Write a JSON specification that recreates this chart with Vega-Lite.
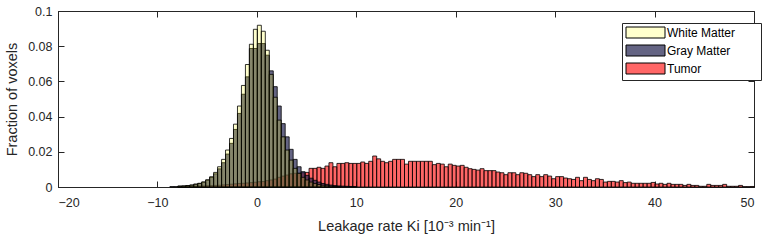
{
"$schema": "https://vega.github.io/schema/vega-lite/v6.json",
"width": 696, "height": 176,
"autosize": {"type": "none"},
"padding": {"left": 58, "top": 11, "right": 16, "bottom": 55},
"background": "white",
"config": {
 "view": {"stroke": "#262626", "strokeWidth": 1},
 "axis": {"domainColor": "#262626", "tickColor": "#262626", "labelColor": "#262626", "titleColor": "#262626", "labelFont": "Liberation Sans", "titleFont": "Liberation Sans", "labelFontSize": 12.5, "titleFontSize": 14.5, "titleFontWeight": "normal", "grid": false, "tickSize": -6, "domainWidth": 1, "tickWidth": 1},
 "legend": {"orient": "none", "legendX": 564, "legendY": 12, "strokeColor": "#262626", "fillColor": "white", "padding": 3, "symbolType": "M-3.25,-0.9167H3.25V0.9167H-3.25Z", "symbolSize": 144, "symbolOffset": 14, "symbolStrokeColor": "black", "symbolStrokeWidth": 1, "labelFont": "Liberation Sans", "labelFontSize": 12, "labelColor": "black", "labelOffset": 15, "rowPadding": 1}
},
"resolve": {"axis": {"x": "independent", "y": "independent"}},
"data": {"values": [
{"s":"Tumor","x":-8,"f":0.0002},{"s":"Tumor","x":-7.6,"f":0.0002},{"s":"Tumor","x":-7.2,"f":0.0003},{"s":"Tumor","x":-6.8,"f":0.0003},{"s":"Tumor","x":-6.4,"f":0.0004},{"s":"Tumor","x":-6,"f":0.0005},{"s":"Tumor","x":-5.6,"f":0.0006},{"s":"Tumor","x":-5.2,"f":0.0007},{"s":"Tumor","x":-4.8,"f":0.0008},{"s":"Tumor","x":-4.4,"f":0.0009},{"s":"Tumor","x":-4,"f":0.001},{"s":"Tumor","x":-3.6,"f":0.0012},{"s":"Tumor","x":-3.2,"f":0.0014},{"s":"Tumor","x":-2.8,"f":0.0016},{"s":"Tumor","x":-2.4,"f":0.0018},{"s":"Tumor","x":-2,"f":0.002},{"s":"Tumor","x":-1.6,"f":0.0021},{"s":"Tumor","x":-1.2,"f":0.0023},{"s":"Tumor","x":-0.8,"f":0.0025},{"s":"Tumor","x":-0.4,"f":0.0027},
{"s":"Tumor","x":0,"f":0.003},{"s":"Tumor","x":0.4,"f":0.0031},{"s":"Tumor","x":0.8,"f":0.0036},{"s":"Tumor","x":1.2,"f":0.004},{"s":"Tumor","x":1.6,"f":0.0045},{"s":"Tumor","x":2,"f":0.0055},{"s":"Tumor","x":2.4,"f":0.0062},{"s":"Tumor","x":2.8,"f":0.0068},{"s":"Tumor","x":3.2,"f":0.0075},{"s":"Tumor","x":3.6,"f":0.0078},{"s":"Tumor","x":4,"f":0.0078},{"s":"Tumor","x":4.4,"f":0.0081},{"s":"Tumor","x":4.8,"f":0.0083},{"s":"Tumor","x":5.2,"f":0.0106},{"s":"Tumor","x":5.6,"f":0.0106},{"s":"Tumor","x":6,"f":0.0112},{"s":"Tumor","x":6.4,"f":0.0106},{"s":"Tumor","x":6.8,"f":0.0119},{"s":"Tumor","x":7.2,"f":0.0138},{"s":"Tumor","x":7.6,"f":0.0115},
{"s":"Tumor","x":8,"f":0.0134},{"s":"Tumor","x":8.4,"f":0.0134},{"s":"Tumor","x":8.8,"f":0.0138},{"s":"Tumor","x":9.2,"f":0.0134},{"s":"Tumor","x":9.6,"f":0.0134},{"s":"Tumor","x":10,"f":0.0134},{"s":"Tumor","x":10.4,"f":0.0142},{"s":"Tumor","x":10.8,"f":0.0134},{"s":"Tumor","x":11.2,"f":0.0146},{"s":"Tumor","x":11.6,"f":0.0176},{"s":"Tumor","x":12,"f":0.016},{"s":"Tumor","x":12.4,"f":0.0146},{"s":"Tumor","x":12.8,"f":0.0138},{"s":"Tumor","x":13.2,"f":0.0146},{"s":"Tumor","x":13.6,"f":0.0157},{"s":"Tumor","x":14,"f":0.0157},{"s":"Tumor","x":14.4,"f":0.0157},{"s":"Tumor","x":14.8,"f":0.013},{"s":"Tumor","x":15.2,"f":0.0146},{"s":"Tumor","x":15.6,"f":0.0146},
{"s":"Tumor","x":16,"f":0.0146},{"s":"Tumor","x":16.4,"f":0.0146},{"s":"Tumor","x":16.8,"f":0.0146},{"s":"Tumor","x":17.2,"f":0.0146},{"s":"Tumor","x":17.6,"f":0.0127},{"s":"Tumor","x":18,"f":0.0134},{"s":"Tumor","x":18.4,"f":0.013},{"s":"Tumor","x":18.8,"f":0.0115},{"s":"Tumor","x":19.2,"f":0.013},{"s":"Tumor","x":19.6,"f":0.0123},{"s":"Tumor","x":20,"f":0.0119},{"s":"Tumor","x":20.4,"f":0.0123},{"s":"Tumor","x":20.8,"f":0.0112},{"s":"Tumor","x":21.2,"f":0.0104},{"s":"Tumor","x":21.6,"f":0.01},{"s":"Tumor","x":22,"f":0.0096},{"s":"Tumor","x":22.4,"f":0.0104},{"s":"Tumor","x":22.8,"f":0.0093},{"s":"Tumor","x":23.2,"f":0.0093},{"s":"Tumor","x":23.6,"f":0.0093},
{"s":"Tumor","x":24,"f":0.0085},{"s":"Tumor","x":24.4,"f":0.0081},{"s":"Tumor","x":24.8,"f":0.007},{"s":"Tumor","x":25.2,"f":0.0081},{"s":"Tumor","x":25.6,"f":0.0081},{"s":"Tumor","x":26,"f":0.007},{"s":"Tumor","x":26.4,"f":0.0081},{"s":"Tumor","x":26.8,"f":0.0078},{"s":"Tumor","x":27.2,"f":0.007},{"s":"Tumor","x":27.6,"f":0.0059},{"s":"Tumor","x":28,"f":0.007},{"s":"Tumor","x":28.4,"f":0.0059},{"s":"Tumor","x":28.8,"f":0.007},{"s":"Tumor","x":29.2,"f":0.0062},{"s":"Tumor","x":29.6,"f":0.0047},{"s":"Tumor","x":30,"f":0.0059},{"s":"Tumor","x":30.4,"f":0.0059},{"s":"Tumor","x":30.8,"f":0.0051},{"s":"Tumor","x":31.2,"f":0.0047},{"s":"Tumor","x":31.6,"f":0.0043},
{"s":"Tumor","x":32,"f":0.0055},{"s":"Tumor","x":32.4,"f":0.0036},{"s":"Tumor","x":32.8,"f":0.0055},{"s":"Tumor","x":33.2,"f":0.0043},{"s":"Tumor","x":33.6,"f":0.0036},{"s":"Tumor","x":34,"f":0.0047},{"s":"Tumor","x":34.4,"f":0.0043},{"s":"Tumor","x":34.8,"f":0.0028},{"s":"Tumor","x":35.2,"f":0.0032},{"s":"Tumor","x":35.6,"f":0.0032},{"s":"Tumor","x":36,"f":0.0028},{"s":"Tumor","x":36.4,"f":0.0036},{"s":"Tumor","x":36.8,"f":0.0025},{"s":"Tumor","x":37.2,"f":0.0028},{"s":"Tumor","x":37.6,"f":0.0021},{"s":"Tumor","x":38,"f":0.0021},{"s":"Tumor","x":38.4,"f":0.0021},{"s":"Tumor","x":38.8,"f":0.0021},{"s":"Tumor","x":39.2,"f":0.0021},{"s":"Tumor","x":39.6,"f":0.0026},
{"s":"Tumor","x":40,"f":0.0017},{"s":"Tumor","x":40.4,"f":0.0021},{"s":"Tumor","x":40.8,"f":0.0015},{"s":"Tumor","x":41.2,"f":0.0021},{"s":"Tumor","x":41.6,"f":0.0015},{"s":"Tumor","x":42,"f":0.0015},{"s":"Tumor","x":42.4,"f":0.0015},{"s":"Tumor","x":42.8,"f":0.0009},{"s":"Tumor","x":43.2,"f":0.0015},{"s":"Tumor","x":43.6,"f":0.0009},{"s":"Tumor","x":44,"f":0.0009},{"s":"Tumor","x":44.4,"f":0.0004},{"s":"Tumor","x":44.8,"f":0.0004},{"s":"Tumor","x":45.2,"f":0.0015},{"s":"Tumor","x":45.6,"f":0.0009},{"s":"Tumor","x":46,"f":0.0009},{"s":"Tumor","x":46.4,"f":0.0009},{"s":"Tumor","x":46.8,"f":0.0015},{"s":"Tumor","x":47.2,"f":0.0004},{"s":"Tumor","x":47.6,"f":0.0004},
{"s":"Tumor","x":48,"f":0.0004},{"s":"Tumor","x":48.4,"f":0.0009},{"s":"Tumor","x":48.8,"f":0.0002},{"s":"Tumor","x":49.2,"f":0.0002},{"s":"Tumor","x":49.6,"f":0.0003},
{"s":"Gray Matter","x":-8.8,"f":0.0002},{"s":"Gray Matter","x":-8.4,"f":0.0002},{"s":"Gray Matter","x":-8,"f":0.0005},{"s":"Gray Matter","x":-7.6,"f":0.0006},{"s":"Gray Matter","x":-7.2,"f":0.0008},{"s":"Gray Matter","x":-6.8,"f":0.0011},{"s":"Gray Matter","x":-6.4,"f":0.0016},{"s":"Gray Matter","x":-6,"f":0.002},{"s":"Gray Matter","x":-5.6,"f":0.0027},{"s":"Gray Matter","x":-5.2,"f":0.0039},{"s":"Gray Matter","x":-4.8,"f":0.0055},{"s":"Gray Matter","x":-4.4,"f":0.0075},{"s":"Gray Matter","x":-4,"f":0.0103},{"s":"Gray Matter","x":-3.6,"f":0.0138},{"s":"Gray Matter","x":-3.2,"f":0.0187},{"s":"Gray Matter","x":-2.8,"f":0.0248},{"s":"Gray Matter","x":-2.4,"f":0.0327},{"s":"Gray Matter","x":-2,"f":0.0418},{"s":"Gray Matter","x":-1.6,"f":0.0527},{"s":"Gray Matter","x":-1.2,"f":0.0626},
{"s":"Gray Matter","x":-0.8,"f":0.0787},{"s":"Gray Matter","x":-0.4,"f":0.0787},{"s":"Gray Matter","x":0,"f":0.0815},{"s":"Gray Matter","x":0.4,"f":0.0815},{"s":"Gray Matter","x":0.8,"f":0.0749},{"s":"Gray Matter","x":1.2,"f":0.066},{"s":"Gray Matter","x":1.6,"f":0.057},{"s":"Gray Matter","x":2,"f":0.046},{"s":"Gray Matter","x":2.4,"f":0.036},{"s":"Gray Matter","x":2.8,"f":0.0285},{"s":"Gray Matter","x":3.2,"f":0.0214},{"s":"Gray Matter","x":3.6,"f":0.0157},{"s":"Gray Matter","x":4,"f":0.0115},{"s":"Gray Matter","x":4.4,"f":0.0087},{"s":"Gray Matter","x":4.8,"f":0.0066},{"s":"Gray Matter","x":5.2,"f":0.005},{"s":"Gray Matter","x":5.6,"f":0.0038},{"s":"Gray Matter","x":6,"f":0.0028},{"s":"Gray Matter","x":6.4,"f":0.002},{"s":"Gray Matter","x":6.8,"f":0.0015},
{"s":"Gray Matter","x":7.2,"f":0.0011},{"s":"Gray Matter","x":7.6,"f":0.0008},{"s":"Gray Matter","x":8,"f":0.0006},{"s":"Gray Matter","x":8.4,"f":0.0005},{"s":"Gray Matter","x":8.8,"f":0.0004},{"s":"Gray Matter","x":9.2,"f":0.0003},{"s":"Gray Matter","x":9.6,"f":0.0002},
{"s":"White Matter","x":-8,"f":0.0005},{"s":"White Matter","x":-7.6,"f":0.0006},{"s":"White Matter","x":-7.2,"f":0.0008},{"s":"White Matter","x":-6.8,"f":0.0011},{"s":"White Matter","x":-6.4,"f":0.0016},{"s":"White Matter","x":-6,"f":0.0021},{"s":"White Matter","x":-5.6,"f":0.0029},{"s":"White Matter","x":-5.2,"f":0.0041},{"s":"White Matter","x":-4.8,"f":0.0058},{"s":"White Matter","x":-4.4,"f":0.0083},{"s":"White Matter","x":-4,"f":0.0115},{"s":"White Matter","x":-3.6,"f":0.0157},{"s":"White Matter","x":-3.2,"f":0.021},{"s":"White Matter","x":-2.8,"f":0.0276},{"s":"White Matter","x":-2.4,"f":0.0357},{"s":"White Matter","x":-2,"f":0.046},{"s":"White Matter","x":-1.6,"f":0.0577},{"s":"White Matter","x":-1.2,"f":0.0696},{"s":"White Matter","x":-0.8,"f":0.0811},{"s":"White Matter","x":-0.4,"f":0.0896},
{"s":"White Matter","x":0,"f":0.0919},{"s":"White Matter","x":0.4,"f":0.0885},{"s":"White Matter","x":0.8,"f":0.0777},{"s":"White Matter","x":1.2,"f":0.064},{"s":"White Matter","x":1.6,"f":0.051},{"s":"White Matter","x":2,"f":0.038},{"s":"White Matter","x":2.4,"f":0.0285},{"s":"White Matter","x":2.8,"f":0.021},{"s":"White Matter","x":3.2,"f":0.0153},{"s":"White Matter","x":3.6,"f":0.0106},{"s":"White Matter","x":4,"f":0.0078},{"s":"White Matter","x":4.4,"f":0.0055},{"s":"White Matter","x":4.8,"f":0.004},{"s":"White Matter","x":5.2,"f":0.0028},{"s":"White Matter","x":5.6,"f":0.002},{"s":"White Matter","x":6,"f":0.0014},{"s":"White Matter","x":6.4,"f":0.001},{"s":"White Matter","x":6.8,"f":0.0007},{"s":"White Matter","x":7.2,"f":0.0005},{"s":"White Matter","x":7.6,"f":0.0003},{"s":"White Matter","x":8,"f":0.0002}
]},
"layer": [
 {
  "transform": [{"filter": "datum.s === 'Tumor'"}],
  "mark": {"type": "bar", "stroke": "black", "strokeWidth": 0.8, "binSpacing": 0, "fillOpacity": 0.6},
  "encoding": {
   "x": {"field": "x", "type": "quantitative", "bin": {"binned": true, "step": 0.4}, "scale": {"domain": [-20, 50], "nice": false, "zero": false}, "axis": {"values": [-20,-10,0,10,20,30,40,50], "format": "d", "title": "Leakage rate Ki [10⁻³ min⁻¹]", "labelPadding": 15, "titlePadding": 11}},
   "y": {"field": "f", "type": "quantitative", "stack": null, "scale": {"domain": [0, 0.1], "nice": false, "zero": true}, "axis": {"values": [0,0.02,0.04,0.06,0.08,0.1], "format": "~g", "title": "Fraction of voxels", "labelPadding": 12, "titlePadding": 8}},
   "color": {"field": "s", "type": "nominal", "scale": {"domain": ["White Matter","Gray Matter","Tumor"], "range": ["#FFFF1B","#22224F","#FF0000"]}, "legend": {"title": null, "labelExpr": "datum.label + '\u00a0\u00a0\u00a0\u00a0\u2800'", "encode": {"symbols": {"update": {"fillOpacity": {"signal": "datum.value === 'White Matter' ? 0.22 : datum.value === 'Gray Matter' ? 0.7 : 0.6"}}}}}}
  }
 },
 {
  "transform": [{"filter": "datum.s === 'Gray Matter'"}],
  "mark": {"type": "bar", "stroke": "black", "strokeWidth": 0.8, "binSpacing": 0, "fillOpacity": 0.7},
  "encoding": {
   "x": {"field": "x", "type": "quantitative", "bin": {"binned": true, "step": 0.4}, "axis": null},
   "y": {"field": "f", "type": "quantitative", "stack": null, "axis": null},
   "color": {"field": "s", "type": "nominal"}
  }
 },
 {
  "transform": [{"filter": "datum.s === 'White Matter'"}],
  "mark": {"type": "bar", "stroke": "black", "strokeWidth": 0.8, "binSpacing": 0, "fillOpacity": 0.22},
  "encoding": {
   "x": {"field": "x", "type": "quantitative", "bin": {"binned": true, "step": 0.4}, "axis": null},
   "y": {"field": "f", "type": "quantitative", "stack": null, "axis": null},
   "color": {"field": "s", "type": "nominal"}
  }
 },
 {
  "mark": {"type": "point", "opacity": 0},
  "encoding": {
   "x": {"field": "x", "type": "quantitative", "axis": {"orient": "top", "values": [-20,-10,0,10,20,30,40,50], "labels": false, "title": null, "domain": false}},
   "y": {"field": "f", "type": "quantitative", "axis": {"orient": "right", "values": [0,0.02,0.04,0.06,0.08,0.1], "labels": false, "title": null, "domain": false}}
  }
 }
]
}
